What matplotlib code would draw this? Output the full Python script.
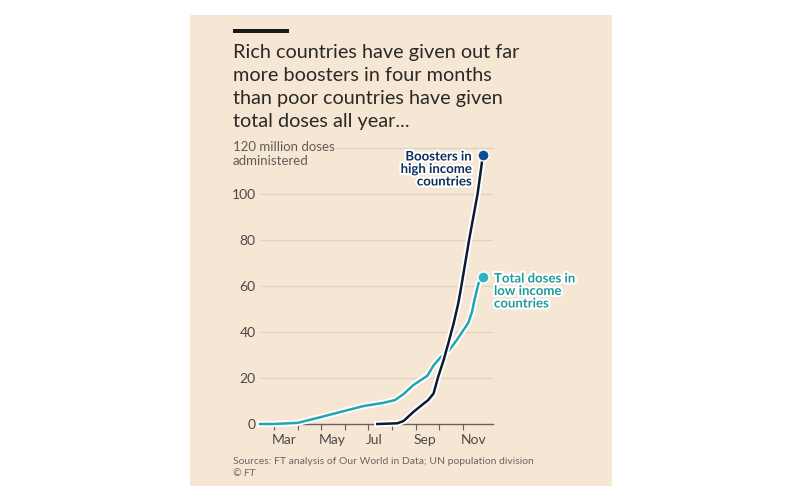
import matplotlib
matplotlib.use("Agg")
import matplotlib.pyplot as plt
import matplotlib.patheffects as pe
import matplotlib.transforms as mtransforms
from matplotlib.patches import Rectangle
import pandas as pd

# values (million doses)
booster_dates = ["2021-07-13", "2021-08-08", "2021-08-16", "2021-08-29", "2021-09-09",
                 "2021-09-17", "2021-09-24", "2021-09-30", "2021-10-07", "2021-10-13",
                 "2021-10-20", "2021-10-26", "2021-10-30", "2021-11-09", "2021-11-20",
                 "2021-11-27"]
booster_vals = [0, 0.3, 1.3, 5.3, 8.3, 10.4, 13.3, 20.6, 27.8, 35, 43.8, 52.5, 60, 80, 100, 117]

low_dates = ["2021-02-11", "2021-03-01", "2021-04-01", "2021-04-26", "2021-05-26",
             "2021-06-25", "2021-07-21", "2021-08-05", "2021-08-16", "2021-08-29",
             "2021-09-07", "2021-09-16", "2021-09-24", "2021-10-03", "2021-10-13",
             "2021-10-24", "2021-11-02", "2021-11-08", "2021-11-13", "2021-11-16",
             "2021-11-19", "2021-11-21", "2021-11-27"]
low_vals = [0, 0, 0.5, 2.6, 5.2, 7.8, 9.2, 10.4, 13, 17, 19, 21, 25.5, 29, 31.5,
            36.5, 41, 44, 49, 54, 58, 61, 64]

month_ticks = ["2021-03-01", "2021-04-01", "2021-05-01", "2021-06-01", "2021-07-01",
               "2021-08-01", "2021-09-01", "2021-10-01", "2021-11-01"]
month_labels = ["Mar", "", "May", "", "Jul", "", "Sep", "", "Nov"]
y_ticks = [0, 20, 40, 60, 80, 100]

bg = "#f6e7d5"
navy = "#0d1a33"
teal = "#21a6b0"
text_col = "#2b2826"
grey = "#66605c"

plt.rcParams['font.family'] = ['Lato', 'DejaVu Sans']

fig = plt.figure(figsize=(8, 5), dpi=100, facecolor="white")
W, H = 800, 500

def fx(px):
    return px / W

def fy(py):
    return 1 - py / H

fig.patches.append(Rectangle((fx(190), fy(486)), fx(612) - fx(190), fy(15) - fy(486),
                             transform=fig.transFigure, facecolor=bg, edgecolor="none", zorder=-2))
# black bar above the title
fig.patches.append(Rectangle((fx(233), fy(33)), fx(289) - fx(233), 4 / H,
                             transform=fig.transFigure, facecolor="#1a1817", edgecolor="none", zorder=-1))

title_lines = ["Rich countries have given out far", "more boosters in four months",
               "than poor countries have given", "total doses all year..."]
for i, line in enumerate(title_lines):
    fig.text(fx(233), fy(58 + i * 23), line, fontsize=14.3, color=text_col, va="baseline", ha="left")

ax = fig.add_axes([fx(260), fy(424), fx(493) - fx(260), fy(148) - fy(424)])
ax.set_facecolor("none")
ax.set_zorder(2)

bd = pd.to_datetime(booster_dates)
ld = pd.to_datetime(low_dates)

ax.set_xlim(pd.Timestamp("2021-02-11"), pd.Timestamp("2021-12-10"))
ax.set_ylim(0, 120)

for y in [20, 40, 60, 80, 100]:
    ax.axhline(y, color="#e3d2c1", lw=1, zorder=1)
ax.axhline(120, xmin=(337 - 260) / 233, color="#e3d2c1", lw=1, zorder=1, clip_on=False)

halo = [pe.withStroke(linewidth=4.5, foreground="white")]
ax.plot(ld, low_vals, color=teal, lw=1.8, zorder=3, path_effects=halo, clip_on=False)
ax.plot(bd, booster_vals, color=navy, lw=1.8, zorder=4, path_effects=halo, clip_on=False)
ax.plot(ld[-1], low_vals[-1], "o", color="#2cb3c2", ms=8, mec="white", mew=1, zorder=5, clip_on=False)
ax.plot(bd[-1], booster_vals[-1], "o", color="#0f4f8f", ms=8, mec="white", mew=1, zorder=5, clip_on=False)

for s in ["top", "left", "right"]:
    ax.spines[s].set_visible(False)
ax.spines["bottom"].set_color(grey)
ax.spines["bottom"].set_linewidth(1)
ax.spines["bottom"].set_zorder(2)

ax.set_yticks(y_ticks)
ax.set_yticklabels([str(v) for v in y_ticks])
ax.tick_params(axis="y", length=0, pad=3, labelsize=10, labelcolor="#4d4845")

ax.set_xticks(pd.to_datetime(month_ticks))
ax.set_xticklabels(month_labels, ha="left")
ax.tick_params(axis="x", length=4, color=grey, pad=3, labelsize=10, labelcolor="#4d4845")
shift = mtransforms.ScaledTranslation(-2 / 100, 0, fig.dpi_scale_trans)
for lab in ax.get_xticklabels():
    lab.set_transform(lab.get_transform() + shift)

fig.text(fx(233), fy(147), "120 million doses", fontsize=9.5, color="#625c57", va="center", ha="left")
fig.text(fx(233), fy(161), "administered", fontsize=9.5, color="#625c57", va="center", ha="left")

label_halo = [pe.withStroke(linewidth=3, foreground="white")]
fig.text(fx(472), fy(169), "Boosters in\nhigh income\ncountries", fontsize=9.5, fontweight="bold",
         color="#0d2e5a", ha="right", va="center", linespacing=1.05, path_effects=label_halo)
fig.text(fx(494), fy(291), "Total doses in\nlow income\ncountries", fontsize=9.5, fontweight="bold",
         color="#1f9a9e", ha="left", va="center", linespacing=1.05, path_effects=label_halo)

fig.text(fx(233), fy(461), "Sources: FT analysis of Our World in Data; UN population division",
         fontsize=7.5, color="#6b6560", va="center", ha="left")
fig.text(fx(233), fy(473), "© FT", fontsize=7.5, color="#6b6560", va="center", ha="left", style="italic")

fig.savefig("out.png", dpi=100, facecolor="white")
